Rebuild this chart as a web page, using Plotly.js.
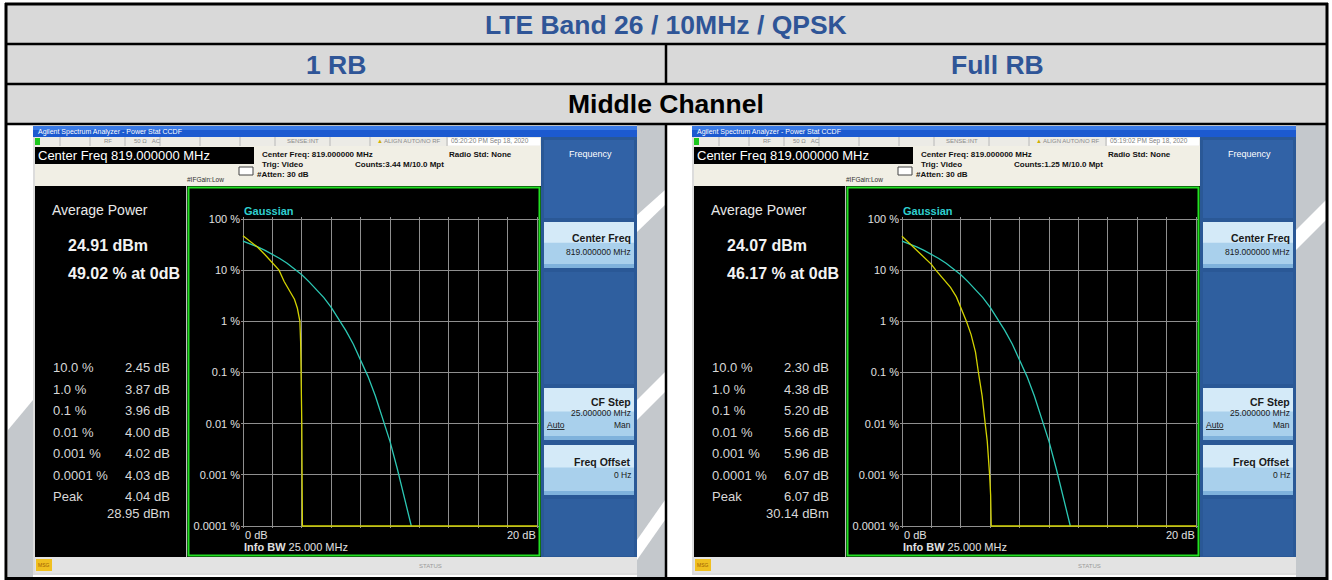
<!DOCTYPE html>
<html><head><meta charset="utf-8">
<script src="https://cdn.plot.ly/plotly-3.0.1.min.js"></script>
<style>html,body{margin:0;padding:0;background:#fff;}#chart{width:1332px;height:580px;}</style>
</head><body><div id="chart"></div>
<script>
// ---------------- DATA ----------------
const headerTitle = 'LTE Band 26 / 10MHz / QPSK';
const columnTitles = ['1 RB', 'Full RB'];
const channelTitle = 'Middle Channel';

const yTickVals = [100, 10, 1, 0.1, 0.01, 0.001, 0.0001];
const yTickText = ['100 %', '10 %', '1 %', '0.1 %', '0.01 %', '0.001 %', '0.0001 %'];
const xTickVals = [0, 2, 4, 6, 8, 10, 12, 14, 16, 18, 20];

// Gaussian reference curve (dB above average, % probability)
const gaussDb  = [0, 0.5, 1, 1.5, 2, 2.5, 3, 3.5, 4, 4.5, 5, 5.5, 6, 6.5, 7, 7.5, 8, 8.5, 9, 9.5, 10, 10.5, 11, 11.45];
const gaussPct = [36.8, 32.6, 28.4, 24.4, 20.5, 16.9, 13.6, 10.6, 8.1, 5.9, 4.2, 2.9, 1.87, 1.14, 0.66, 0.36, 0.18, 0.084, 0.035, 0.013, 0.0045, 0.0013, 0.00034, 0.0001];

// Measured CCDF, 1 RB
const rb1Db  = [0, 0.5, 1, 1.5, 2, 2.45, 2.8, 3.2, 3.5, 3.7, 3.87, 3.92, 3.96, 4.00, 4.02, 4.03, 4.04, 20];
const rb1Pct = [47, 37, 28, 20, 13.8, 10, 6.0, 3.9, 2.7, 1.8, 1.0, 0.4, 0.1, 0.01, 0.001, 0.0001, 0.0001, 0.0001];

// Measured CCDF, Full RB
const fullDb  = [0, 0.5, 1, 1.5, 2, 2.3, 2.8, 3.3, 3.7, 4.0, 4.38, 4.7, 5.0, 5.2, 5.45, 5.66, 5.8, 5.96, 6.03, 6.07, 20];
const fullPct = [46.2, 34, 25, 18, 13, 10, 6.8, 4.6, 3.0, 1.9, 1.0, 0.55, 0.25, 0.1, 0.035, 0.01, 0.0045, 0.001, 0.0004, 0.0001, 0.0001];

// Readouts
const statLabels = ['10.0 %', '1.0 %', '0.1 %', '0.01 %', '0.001 %', '0.0001 %', 'Peak'];
const rb1Stats   = ['2.45 dB', '3.87 dB', '3.96 dB', '4.00 dB', '4.02 dB', '4.03 dB', '4.04 dB'];
const fullStats  = ['2.30 dB', '4.38 dB', '5.20 dB', '5.66 dB', '5.96 dB', '6.07 dB', '6.07 dB'];
const avgPower   = ['24.91 dBm', '24.07 dBm'];
const atZero     = ['49.02 % at 0dB', '46.17 % at 0dB'];
const peakPower  = ['28.95 dBm', '30.14 dBm'];
const counts     = ['Counts:3.44 M/10.0 Mpt', 'Counts:1.25 M/10.0 Mpt'];
const stamps     = ['05:20:20 PM Sep 18, 2020', '05:19:02 PM Sep 18, 2020'];

// ---------------- HELPERS ----------------
const W = 1332, H = 580;
const FONT = 'Liberation Sans, Arial, sans-serif';
const X = p => p / W, Y = p => 1 - p / H;
const shapes = [], ann = [];
function rect(x0, y0, x1, y1, fill, lc, lw) {
  shapes.push({type:'rect', xref:'paper', yref:'paper', x0:X(x0), x1:X(x1), y0:Y(y1), y1:Y(y0),
    fillcolor: fill, line:{color: lc || 'rgba(0,0,0,0)', width: lw || 0}, layer:'below'});
}
function seg(x0, y0, x1, y1, color, w, layer) {
  shapes.push({type:'line', xref:'paper', yref:'paper', x0:X(x0), x1:X(x1), y0:Y(y0), y1:Y(y1),
    line:{color, width:w}, layer: layer || 'below'});
}
function poly(pts, fill) {
  const d = pts.map((p, i) => (i ? 'L' : 'M') + X(p[0]).toFixed(5) + ',' + Y(p[1]).toFixed(5)).join(' ') + ' Z';
  shapes.push({type:'path', xref:'paper', yref:'paper', path:d, fillcolor:fill, line:{width:0, color:'rgba(0,0,0,0)'}, layer:'below'});
}
function txt(x, y, s, size, color, xa, bold) {
  ann.push({xref:'paper', yref:'paper', x:X(x), y:Y(y), text: bold ? '<b>' + s + '</b>' : s, showarrow:false,
    xanchor: xa || 'left', yanchor:'middle', borderpad:0, font:{family:FONT, size, color}});
}

// ---------------- TABLE ----------------
const WM = '#c4c8cc';
rect(8, 124, 1326, 580, '#ffffff');
poly([[8,430],[33,400],[33,580],[8,580]], WM);
rect(637, 124, 665, 580, WM);
poly([[637,232],[665,205],[665,190],[637,215]], '#ffffff');
poly([[637,420],[665,392],[665,372],[637,400]], '#ffffff');
poly([[637,560],[665,520],[665,500],[637,540]], '#ffffff');
rect(1296, 124, 1326, 580, WM);
poly([[1296,250],[1326,220],[1326,200],[1296,230]], '#ffffff');

rect(7, 5, 1326, 44, '#d9d9d9');
rect(7, 44, 1326, 84, '#d9d9d9');
rect(7, 84, 1326, 124, '#d9d9d9');
txt(666, 25, headerTitle, 26.5, '#2f5597', 'center', true);
txt(336, 65, columnTitles[0], 26.5, '#2f5597', 'center', true);
txt(997, 65, columnTitles[1], 26.5, '#2f5597', 'center', true);
txt(666, 104, channelTitle, 26.5, '#000000', 'center', true);

// ---------------- SCREENSHOT CHROME ----------------
function panel(ox, k) {
  rect(ox+33, 126, ox+637, 575, '#dcdcdc');
  rect(ox+33, 126, ox+637, 137, '#1c5ad0');
  rect(ox+33, 126, ox+637, 130, '#3b7be6');
  txt(ox+37, 132, 'Agilent Spectrum Analyzer - Power Stat CCDF', 7, '#ffffff', 'left');
  rect(ox+35, 137, ox+541, 146, '#ecebe6');
  [60, 90, 125, 160, 200, 240, 275, 330, 370, 447].forEach(v => seg(ox+v, 137, ox+v, 146, '#b8b8b8', 1));
  rect(ox+35, 138, ox+40, 145, '#1ec81e');
  rect(ox+448, 138, ox+540, 145.5, '#ffffff');
  txt(ox+103, 141.5, 'RF', 6, '#8a8a8a', 'left');
  txt(ox+133, 141.5, '50 Ω   AC', 6, '#8a8a8a', 'left');
  txt(ox+286, 141.5, 'SENSE:INT', 6, '#8a8a8a', 'left');
  txt(ox+376, 141.5, '▲', 6, '#d0b000', 'left');
  txt(ox+383, 141.5, 'ALIGN AUTO/NO RF', 6, '#8a8a8a', 'left');
  txt(ox+450, 141.5, stamps[k], 6.5, '#808080', 'left');
  rect(ox+35, 146, ox+541, 186, '#f1efe5');
  rect(ox+35, 147, ox+254, 164, '#000000');
  txt(ox+37, 155.5, 'Center Freq 819.000000 MHz', 13, '#ffffff', 'left');
  txt(ox+186, 179.5, '#IFGain:Low', 6.5, '#303030', 'left');
  rect(ox+239, 167, ox+253, 175, '#ffffff', '#444444', 1);
  txt(ox+261, 155, 'Center Freq: 819.000000 MHz', 8, '#111111', 'left', true);
  txt(ox+261, 164.5, 'Trig: Video', 8, '#111111', 'left', true);
  txt(ox+256, 174, '#Atten: 30 dB', 8, '#111111', 'left', true);
  txt(ox+354, 164.5, counts[k], 8, '#111111', 'left', true);
  txt(ox+448, 155, 'Radio Std: None', 8, '#111111', 'left', true);
  rect(ox+541, 137, ox+637, 560, '#2a5896');
  rect(ox+544, 140, ox+634, 218, '#3162a6');
  txt(ox+590, 154, 'Frequency', 9, '#ffffff', 'center');
  function key(y0, y1) {
    rect(ox+544, y0, ox+634, y1, '#a9d0ec');
    rect(ox+544, y0, ox+634, y0 + (y1-y0)*0.45, '#d4eaf8');
    rect(ox+544, y1-4, ox+634, y1, '#7fb2dc');
  }
  key(222, 268);
  rect(ox+544, 272, ox+634, 384, '#2f5f9f');
  key(388, 440);
  key(445, 495);
  rect(ox+544, 499, ox+634, 556, '#2f5f9f');
  txt(ox+632, 238, 'Center Freq', 10.5, '#1a1a1a', 'right', true);
  txt(ox+632, 252, '819.000000 MHz', 8.5, '#1a1a1a', 'right');
  txt(ox+632, 401.5, 'CF Step', 10.5, '#1a1a1a', 'right', true);
  txt(ox+632, 413, '25.000000 MHz', 8.5, '#1a1a1a', 'right');
  txt(ox+546, 425, '<u>Auto</u>', 8.5, '#1a1a1a', 'left');
  txt(ox+632, 425, 'Man', 8.5, '#1a1a1a', 'right');
  txt(ox+632, 461.5, 'Freq Offset', 10.5, '#1a1a1a', 'right', true);
  txt(ox+632, 475, '0 Hz', 8.5, '#1a1a1a', 'right');
  rect(ox+35, 186, ox+186, 557, '#000000');
  seg(ox+186.5, 186, ox+186.5, 557, '#bdbdbd', 1);
  txt(ox+51, 210, 'Average Power', 14, '#e8e8e8', 'left');
  txt(ox+67, 245, avgPower[k], 16, '#f2f2f2', 'left', true);
  txt(ox+67, 273.5, atZero[k], 16, '#f2f2f2', 'left', true);
  const st = k ? fullStats : rb1Stats;
  statLabels.forEach((s, i) => {
    const yy = 367.5 + i * 21.5;
    txt(ox+52, yy, s, 13, '#d8d8d8', 'left');
    txt(ox+171, yy, st[i], 13, '#d8d8d8', 'right');
  });
  txt(ox+171, 513, peakPower[k], 13, '#d8d8d8', 'right');
  rect(ox+187, 186, ox+541, 557, '#000000');
  rect(ox+188.5, 187.5, ox+539.5, 555.5, 'rgba(0,0,0,0)', '#22e022', 2);
  txt(ox+243, 211, 'Gaussian', 11, '#2fd0d0', 'left', true);
  txt(ox+244, 534.5, '0 dB', 11, '#e0e0e0', 'left');
  txt(ox+537, 534.5, '20 dB', 11, '#e0e0e0', 'right');
  txt(ox+243, 547, '<b>Info BW</b> 25.000 MHz', 11, '#e0e0e0', 'left');
  rect(ox+35, 557, ox+637, 573, '#e3e3e3');
  rect(ox+36, 559, ox+52, 571, '#f0c020');
  txt(ox+44, 565, 'MSG', 5, '#a06000', 'center');
  txt(ox+430, 566, 'STATUS', 6, '#9a9a9a', 'center');
}
panel(0, 0);
panel(659, 1);

seg(5, 4, 1328, 4, '#000', 3);
seg(6, 3, 6, 580, '#000', 3);
seg(1327, 3, 1327, 580, '#000', 3);
seg(6, 44, 1327, 44, '#000', 2.5);
seg(6, 84, 1327, 84, '#000', 2.5);
seg(6, 124, 1327, 124, '#000', 2.5);
seg(666, 44, 666, 84, '#000', 2.5);
seg(666, 124, 666, 580, '#000', 2.5);
seg(6, 578.5, 1327, 578.5, '#000', 3);

// ---------------- PLOTS ----------------
const pad = 2;
const xPerPx = 20 / 294, decPerPx = 6 / 307;
function axes(ox) {
  const x0 = ox + 243 - pad, x1 = ox + 537 + pad;
  const y0 = 219 - pad, y1 = 526 + pad;
  return {
    x: {domain:[X(x0), X(x1)], range:[-pad*xPerPx, 20 + pad*xPerPx], tickvals:xTickVals, showticklabels:false,
        showgrid:true, gridcolor:'#8f8f8f', gridwidth:1, zeroline:false, showline:false, fixedrange:true},
    y: {domain:[Y(y1), Y(y0)], type:'log', range:[-4 - pad*decPerPx, 2 + pad*decPerPx], tickvals:yTickVals, ticktext:yTickText,
        showgrid:true, gridcolor:'#8f8f8f', gridwidth:1, zeroline:false, showline:false, ticks:'', ticklabelstandoff:0,
        tickfont:{family:FONT, size:11, color:'#e0e0e0'}, fixedrange:true}
  };
}
const a1 = axes(0), a2 = axes(659);
a1.x.anchor = 'y'; a1.y.anchor = 'x'; a2.x.anchor = 'y2'; a2.y.anchor = 'x2';
const traces = [
  {x:gaussDb, y:gaussPct, xaxis:'x', yaxis:'y', mode:'lines', line:{color:'#2cc8b4', width:1.3}, hoverinfo:'skip'},
  {x:rb1Db, y:rb1Pct, xaxis:'x', yaxis:'y', mode:'lines', line:{color:'#d2d200', width:1.3}, hoverinfo:'skip'},
  {x:gaussDb, y:gaussPct, xaxis:'x2', yaxis:'y2', mode:'lines', line:{color:'#2cc8b4', width:1.3}, hoverinfo:'skip'},
  {x:fullDb, y:fullPct, xaxis:'x2', yaxis:'y2', mode:'lines', line:{color:'#d2d200', width:1.3}, hoverinfo:'skip'}
];
const layout = {
  width:W, height:H, margin:{l:0, r:0, t:0, b:0, pad:0}, showlegend:false,
  paper_bgcolor:'#ffffff', plot_bgcolor:'rgba(0,0,0,0)',
  xaxis:a1.x, yaxis:a1.y, xaxis2:a2.x, yaxis2:a2.y,
  shapes, annotations: ann, font:{family:FONT}
};
Plotly.newPlot('chart', traces, layout, {staticPlot:true, displayModeBar:false});
</script></body></html>
